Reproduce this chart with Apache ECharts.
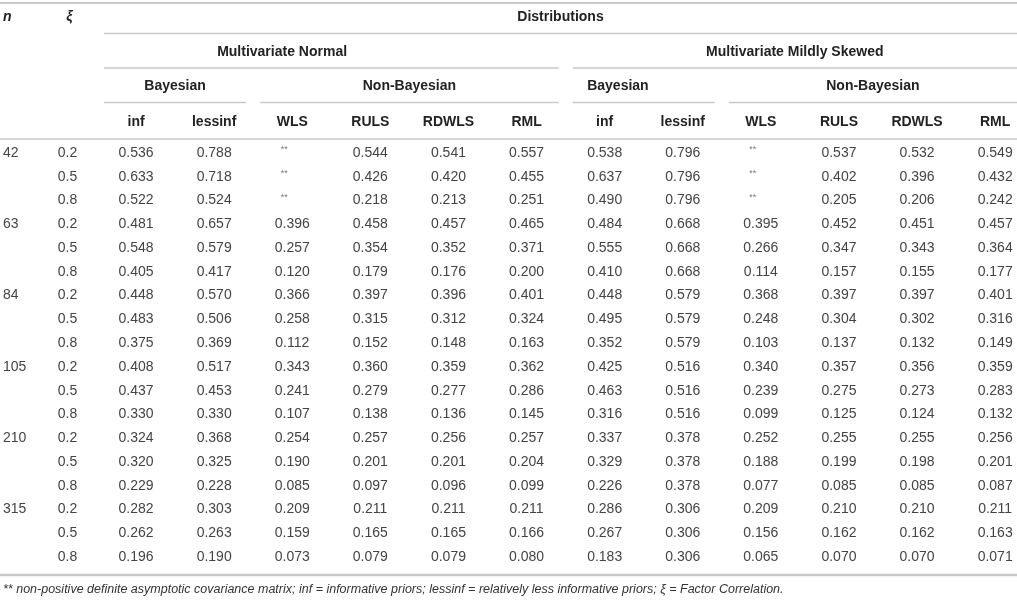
<!DOCTYPE html>
<html>
<head>
<meta charset="utf-8">
<title>Distributions table</title>
<script src="https://cdn.jsdelivr.net/npm/echarts@6/dist/echarts.min.js"></script>
<style>
html, body { margin: 0; padding: 0; background: #fff; }
#main { width: 1017px; height: 600px; }
</style>
</head>
<body>
<div id="main"></div>
<script>
var sampleSizes = [42, 63, 84, 105, 210, 315];
var factorCorr = [0.2, 0.5, 0.8];
var methods = ['inf', 'lessinf', 'WLS', 'RULS', 'RDWLS', 'RML'];
var distributions = ['Multivariate Normal', 'Multivariate Mildly Skewed'];
var families = ['Bayesian', 'Non-Bayesian'];
var familySize = [2, 4];

// one array per method, rows go n = 42..315, xi = 0.2/0.5/0.8 ; null = ** (not available)
var normInf     = [0.536, 0.633, 0.522, 0.481, 0.548, 0.405, 0.448, 0.483, 0.375, 0.408, 0.437, 0.330, 0.324, 0.320, 0.229, 0.282, 0.262, 0.196];
var normLessinf = [0.788, 0.718, 0.524, 0.657, 0.579, 0.417, 0.570, 0.506, 0.369, 0.517, 0.453, 0.330, 0.368, 0.325, 0.228, 0.303, 0.263, 0.190];
var normWLS     = [null, null, null, 0.396, 0.257, 0.120, 0.366, 0.258, 0.112, 0.343, 0.241, 0.107, 0.254, 0.190, 0.085, 0.209, 0.159, 0.073];
var normRULS    = [0.544, 0.426, 0.218, 0.458, 0.354, 0.179, 0.397, 0.315, 0.152, 0.360, 0.279, 0.138, 0.257, 0.201, 0.097, 0.211, 0.165, 0.079];
var normRDWLS   = [0.541, 0.420, 0.213, 0.457, 0.352, 0.176, 0.396, 0.312, 0.148, 0.359, 0.277, 0.136, 0.256, 0.201, 0.096, 0.211, 0.165, 0.079];
var normRML     = [0.557, 0.455, 0.251, 0.465, 0.371, 0.200, 0.401, 0.324, 0.163, 0.362, 0.286, 0.145, 0.257, 0.204, 0.099, 0.211, 0.166, 0.080];

var skewInf     = [0.538, 0.637, 0.490, 0.484, 0.555, 0.410, 0.448, 0.495, 0.352, 0.425, 0.463, 0.316, 0.337, 0.329, 0.226, 0.286, 0.267, 0.183];
var skewLessinf = [0.796, 0.796, 0.796, 0.668, 0.668, 0.668, 0.579, 0.579, 0.579, 0.516, 0.516, 0.516, 0.378, 0.378, 0.378, 0.306, 0.306, 0.306];
var skewWLS     = [null, null, null, 0.395, 0.266, 0.114, 0.368, 0.248, 0.103, 0.340, 0.239, 0.099, 0.252, 0.188, 0.077, 0.209, 0.156, 0.065];
var skewRULS    = [0.537, 0.402, 0.205, 0.452, 0.347, 0.157, 0.397, 0.304, 0.137, 0.357, 0.275, 0.125, 0.255, 0.199, 0.085, 0.210, 0.162, 0.070];
var skewRDWLS   = [0.532, 0.396, 0.206, 0.451, 0.343, 0.155, 0.397, 0.302, 0.132, 0.356, 0.273, 0.124, 0.255, 0.198, 0.085, 0.210, 0.162, 0.070];
var skewRML     = [0.549, 0.432, 0.242, 0.457, 0.364, 0.177, 0.401, 0.316, 0.149, 0.359, 0.283, 0.132, 0.256, 0.201, 0.087, 0.211, 0.163, 0.071];

var footnote = '** non-positive definite asymptotic covariance matrix; inf = informative priors; lessinf = relatively less informative priors; \u03be = Factor Correlation.';

// layout
var FONT = '"Liberation Sans", Arial, Helvetica, sans-serif';
var RULE = '#c9c9c9';
var GAP = 7;
var COL_LEFT = 97, COL_STEP = 78.1, STUB_W = 90;
var HEAD_TOP = 0, HEAD_H = 138, BODY_TOP = 141, BODY_H = 428;
// a few spanning headers are not centred over their rule in the original
var labelAt = { 1: 1.87, 5: 6.17 };

var chart = echarts.init(document.getElementById('main'));
var W = chart.getWidth();

var valueCols = [normInf, normLessinf, normWLS, normRULS, normRDWLS, normRML,
                 skewInf, skewLessinf, skewWLS, skewRULS, skewRDWLS, skewRML];
var nCols = valueCols.length;

var rowNames = [];
sampleSizes.forEach(function (n) {
    factorCorr.forEach(function (x) { rowNames.push(n + '/' + x); });
});
var headRows = ['distributions', 'distribution', 'family', 'method'];

var cells = [];
valueCols.forEach(function (col, c) {
    col.forEach(function (v, r) {
        cells.push({ c: c, r: r, text: v == null ? '**' : v.toFixed(3), missing: v == null });
    });
});

var stubCells = [];
rowNames.forEach(function (name, r) {
    if (r % 3 === 0) stubCells.push({ c: 0, r: r, text: String(sampleSizes[r / 3]) });
    stubCells.push({ c: 1, r: r, text: factorCorr[r % 3].toFixed(1) });
});

// spanning headers
var spans = [{ text: 'Distributions', row: 0, from: 0, to: nCols - 1 }];
distributions.forEach(function (d, i) {
    var start = i * methods.length;
    spans.push({ text: d, row: 1, from: start, to: start + methods.length - 1 });
    families.forEach(function (f, j) {
        spans.push({ text: f, row: 2, from: start, to: start + familySize[j] - 1 });
        start += familySize[j];
    });
});
var methodHeads = valueCols.map(function (col, c) {
    return { text: methods[c % methods.length], row: 3, col: c };
});

function txt(x, y, text, opt) {
    opt = opt || {};
    return {
        type: 'text', x: x, y: y,
        style: {
            text: text,
            fill: opt.fill || '#222',
            fontSize: opt.size || 14,
            fontFamily: FONT,
            fontWeight: opt.weight || 'normal',
            fontStyle: opt.style || 'normal',
            align: opt.align || 'center',
            verticalAlign: 'middle'
        }
    };
}

function renderSpan(params, api) {
    var s = spans[params.dataIndex];
    var band = api.size([1, 1]);
    var a = api.coord([s.from, s.row]);
    var b = api.coord([s.to, s.row]);
    var x1 = a[0] - band[0] / 2 + GAP;
    var x2 = Math.min(b[0] + band[0] / 2 - GAP, api.getWidth());
    var yRule = a[1] + band[1] / 2 - 1;
    var xText = (x1 + x2) / 2;
    if (labelAt[params.dataIndex] != null) {
        xText = api.coord([labelAt[params.dataIndex], s.row])[0];
    }
    return {
        type: 'group',
        children: [
            txt(xText, a[1], s.text, { weight: 'bold' }),
            { type: 'line', shape: { x1: x1, y1: yRule, x2: x2, y2: yRule },
              style: { stroke: RULE, lineWidth: 1.5 } }
        ]
    };
}

function renderMethod(params, api) {
    var m = methodHeads[params.dataIndex];
    var p = api.coord([m.col, m.row]);
    return txt(p[0], p[1] + 1, m.text, { weight: 'bold' });
}

function renderCell(params, api) {
    var cell = cells[params.dataIndex];
    var p = api.coord([cell.c, cell.r]);
    if (cell.missing) return txt(p[0] - 8, p[1] - 3, cell.text, { size: 9, fill: '#777' });
    return txt(p[0], p[1], cell.text, { fill: '#444' });
}

function renderStub(params, api) {
    var cell = stubCells[params.dataIndex];
    var band = api.size([1, 1]);
    var p = api.coord([cell.c, cell.r]);
    if (cell.c === 0) return txt(p[0] - band[0] / 2 + 3, p[1], cell.text, { fill: '#444', align: 'left' });
    return txt(p[0], p[1], cell.text, { fill: '#444' });
}

function renderStubHead(params, api) {
    var band = api.size([1, 1]);
    var p = api.coord([params.dataIndex, 0]);
    if (params.dataIndex === 0) return txt(p[0] - band[0] / 2 + 3, p[1], 'n', { weight: 'bold', style: 'italic', align: 'left' });
    return txt(p[0] + 2, p[1], '\u03be', { weight: 'bold', style: 'italic' });
}

// columns: value axis in column units so the last column may run past the page edge
function colAxis(grid) {
    return { type: 'value', gridIndex: grid, min: -0.5, max: -0.5 + (W - COL_LEFT) / COL_STEP, show: false };
}
function hiddenCat(data, grid) {
    return { type: 'category', data: data, gridIndex: grid, show: false };
}
function hiddenRows(data, grid) {
    return { type: 'category', data: data, gridIndex: grid, inverse: true, show: false };
}

var option = {
    animation: false,
    backgroundColor: '#fff',
    title: {
        text: footnote,
        left: 3, top: 583, padding: 0,
        textStyle: { fontFamily: FONT, fontSize: 12.5, fontStyle: 'italic', fontWeight: 'normal', color: '#333' }
    },
    grid: [
        { left: COL_LEFT, top: HEAD_TOP, right: 0, height: HEAD_H },
        { left: COL_LEFT, top: BODY_TOP, right: 0, height: BODY_H },
        { left: 0, top: HEAD_TOP, width: STUB_W, height: HEAD_H },
        { left: 0, top: BODY_TOP, width: STUB_W, height: BODY_H }
    ],
    xAxis: [colAxis(0), colAxis(1), hiddenCat(['n', '\u03be'], 2), hiddenCat(['n', '\u03be'], 3)],
    yAxis: [hiddenRows(headRows, 0), hiddenRows(rowNames, 1), hiddenRows(headRows, 2), hiddenRows(rowNames, 3)],
    graphic: [
        { type: 'line', shape: { x1: 0, y1: HEAD_TOP + 3, x2: W, y2: HEAD_TOP + 3 }, style: { stroke: RULE, lineWidth: 2 } },
        { type: 'line', shape: { x1: 0, y1: HEAD_TOP + HEAD_H + 1, x2: W, y2: HEAD_TOP + HEAD_H + 1 }, style: { stroke: RULE, lineWidth: 1.5 } },
        { type: 'line', shape: { x1: 0, y1: BODY_TOP + BODY_H + 6, x2: W, y2: BODY_TOP + BODY_H + 6 }, style: { stroke: RULE, lineWidth: 2.5 } }
    ],
    series: [
        { type: 'custom', xAxisIndex: 0, yAxisIndex: 0, renderItem: renderSpan,
          data: spans.map(function (s) { return [s.from, s.row]; }) },
        { type: 'custom', xAxisIndex: 0, yAxisIndex: 0, renderItem: renderMethod,
          data: methodHeads.map(function (m) { return [m.col, m.row]; }) },
        { type: 'custom', xAxisIndex: 1, yAxisIndex: 1, renderItem: renderCell,
          data: cells.map(function (c) { return [c.c, c.r]; }) },
        { type: 'custom', xAxisIndex: 2, yAxisIndex: 2, renderItem: renderStubHead,
          data: [[0, 0], [1, 0]] },
        { type: 'custom', xAxisIndex: 3, yAxisIndex: 3, renderItem: renderStub,
          data: stubCells.map(function (c) { return [c.c, c.r]; }) }
    ]
};
chart.setOption(option);
window.onresize = chart.resize;
</script>
</body>
</html>
